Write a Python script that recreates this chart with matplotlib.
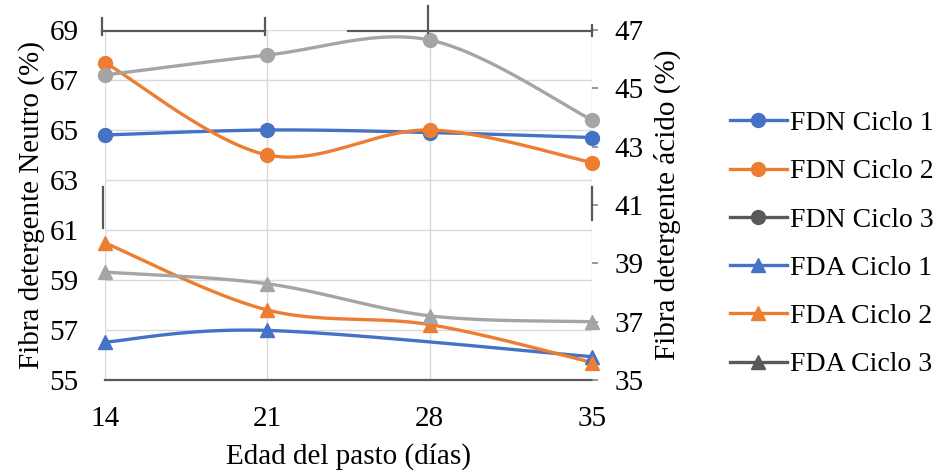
import numpy as np
import matplotlib
matplotlib.use('Agg')
import matplotlib.pyplot as plt
from matplotlib.lines import Line2D

plt.rcParams['font.family'] = ['Liberation Serif', 'DejaVu Serif']

# ---- data ----
dias = [14, 21, 28, 35]
fdn_c1 = [64.8, 65.0, 64.9, 64.7]
fdn_c2 = [67.7, 64.0, 65.0, 63.7]
fdn_c3 = [67.2, 68.0, 68.6, 65.4]
fda_c1 = [36.3, 36.7, np.nan, 35.8]
fda_c2 = [39.7, 37.4, 36.9, 35.6]
fda_c3 = [38.7, 38.3, 37.2, 37.0]

left_ticks = [55, 57, 59, 61, 63, 65, 67, 69]
right_ticks = [35, 37, 39, 41, 43, 45, 47]

labels = ['FDN Ciclo 1', 'FDN Ciclo 2', 'FDN Ciclo 3',
          'FDA Ciclo 1', 'FDA Ciclo 2', 'FDA Ciclo 3']

BLUE = '#4472C4'
ORANGE = '#ED7D31'
GRAY = '#A5A5A5'
DGRAY = '#595959'
FS = 21


def smooth(x, y, n=50):
    P = np.array([(a, b) for a, b in zip(x, y) if not np.isnan(b)], float)
    out = []
    for i in range(len(P) - 1):
        p0 = P[max(i - 1, 0)]
        p1 = P[i]
        p2 = P[i + 1]
        p3 = P[min(i + 2, len(P) - 1)]
        c1 = p1 + (p2 - p0) / 6.0
        c2 = p2 - (p3 - p1) / 6.0
        t = np.linspace(0, 1, n)[:, None]
        b = ((1 - t) ** 3) * p1 + 3 * ((1 - t) ** 2) * t * c1 + 3 * (1 - t) * t ** 2 * c2 + t ** 3 * p2
        out.append(b)
    B = np.vstack(out)
    return B[:, 0], B[:, 1], P


fig = plt.figure(figsize=(9.43, 4.75), dpi=100)
W, H = 943, 475
ax = fig.add_axes([105 / W, 1 - 380 / H, (592 - 105) / W, 350 / H])
ax2 = ax.twinx()

lw = 2.4
ms = 10

for y, c in [(fdn_c1, BLUE), (fdn_c2, ORANGE), (fdn_c3, GRAY)]:
    sx, sy, P = smooth(dias, y)
    ax.plot(sx, sy, color=c, lw=lw, solid_capstyle='round', zorder=3, clip_on=False)
    ax.plot(P[:, 0], P[:, 1], ls='none', marker='o', ms=ms, color=c, zorder=4, clip_on=False)

for y, c in [(fda_c1, BLUE), (fda_c2, ORANGE), (fda_c3, GRAY)]:
    sx, sy, P = smooth(dias, y)
    ax2.plot(sx, sy, color=c, lw=lw, solid_capstyle='round', zorder=3, clip_on=False)
    ax2.plot(P[:, 0], P[:, 1], ls='none', marker='^', ms=ms, color=c, zorder=4, clip_on=False)

ax.set_xlim(14, 35)
ax.set_ylim(55, 69)
ax2.set_ylim(35, 47)
ax.set_xticks(dias)
ax.set_yticks(left_ticks)
ax2.set_yticks(right_ticks)

ax.grid(True, color='#D9D9D9', lw=1.0)
ax.set_axisbelow(True)

for s in ['top', 'left', 'right']:
    ax.spines[s].set_visible(False)
    ax2.spines[s].set_visible(False)
ax.spines['bottom'].set_color(DGRAY)
ax.spines['bottom'].set_linewidth(1.6)
ax2.spines['bottom'].set_visible(False)

ax.tick_params(axis='x', length=0, labelsize=FS, pad=19, colors='black')
ax.tick_params(axis='y', length=0, labelsize=FS, pad=19)
ax2.tick_params(axis='y', length=4, width=1.2, color='#888888', labelsize=FS, pad=12)

ax.set_xlabel('Edad del pasto (días)', fontsize=FS, labelpad=8)
ax.set_ylabel('Fibra detergente Neutro (%)', fontsize=FS, labelpad=3)
ax2.set_ylabel('Fibra detergente ácido (%)', fontsize=FS, labelpad=7)

# decorative dark segments seen in the reference
def seg(x0, y0, x1, y1):
    fig.add_artist(Line2D([x0 / W, x1 / W], [1 - y0 / H, 1 - y1 / H],
                          color=DGRAY, lw=1.6, transform=fig.transFigure))

seg(102, 31, 265, 31)
seg(102, 18, 102, 35)
seg(265, 18, 265, 35)
seg(348, 31, 592, 31)
seg(428, 6, 428, 33)
seg(592, 25, 592, 36)
seg(103, 187, 103, 228)
seg(592, 187, 592, 220)

# legend
handles = [
    Line2D([], [], color=BLUE, lw=lw, marker='o', ms=ms),
    Line2D([], [], color=ORANGE, lw=lw, marker='o', ms=ms),
    Line2D([], [], color=DGRAY, lw=lw, marker='o', ms=ms),
    Line2D([], [], color=BLUE, lw=lw, marker='^', ms=ms),
    Line2D([], [], color=ORANGE, lw=lw, marker='^', ms=ms),
    Line2D([], [], color=DGRAY, lw=lw, marker='^', ms=ms),
]
fig.legend(handles, labels, loc='center left', bbox_to_anchor=(716 / W, 1 - 244 / H),
           frameon=False, fontsize=20, handlelength=2.05, handletextpad=0.1,
           labelspacing=0.82, borderpad=0)

fig.savefig('out.png', dpi=100)
